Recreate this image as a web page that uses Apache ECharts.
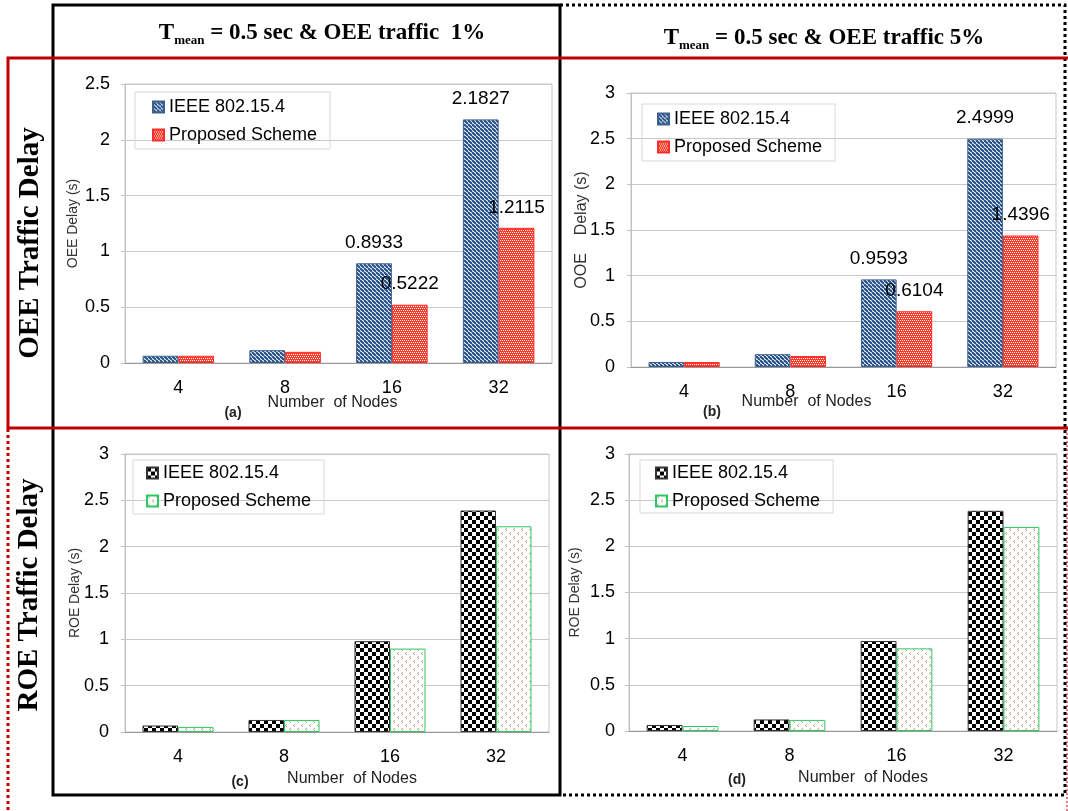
<!DOCTYPE html>
<html>
<head>
<meta charset="utf-8">
<script src="https://cdn.jsdelivr.net/npm/echarts@6/dist/echarts.min.js"></script>
<style>
html, body { margin: 0; padding: 0; background: #fff; }
#chart { width: 1068px; height: 811px; }
</style>
</head>
<body>
<div id="chart"></div>
<script>
// number of nodes on every x axis
const nodes = ['4', '8', '16', '32']
// OEE delay (s), OEE traffic 1% / 5%
const oeeIeee1 = [0.065, 0.115, 0.8933, 2.1827]
const oeeProp1 = [0.065, 0.1, 0.5222, 1.2115]
const oeeIeee5 = [0.055, 0.14, 0.9593, 2.4999]
const oeeProp5 = [0.055, 0.12, 0.6104, 1.4396]
// ROE delay (s), OEE traffic 1% / 5%
const roeIeee1 = [0.07, 0.13, 0.98, 2.39]
const roeProp1 = [0.055, 0.13, 0.9, 2.22]
const roeIeee5 = [0.065, 0.125, 0.975, 2.385]
const roeProp5 = [0.054, 0.12, 0.895, 2.21]
// which categories carry a value label in the OEE panels
const labelled = [false, false, true, true]
const legendNames = ['IEEE 802.15.4', 'Proposed Scheme']

const sans = 'Liberation Sans, Arial, sans-serif'
const serif = 'Liberation Serif, Times New Roman, serif'

function tile(w, h, draw) {
  const c = document.createElement('canvas')
  c.width = w
  c.height = h
  draw(c.getContext('2d'))
  return { image: c, repeat: 'repeat' }
}

// bar fills
const blueStripes = tile(4, 4, ctx => {
  ctx.fillStyle = '#fff'
  ctx.fillRect(0, 0, 4, 4)
  ctx.strokeStyle = '#1f4c86'
  ctx.lineWidth = 2
  const offs = [-4, 0, 4]
  offs.forEach(o => {
    ctx.beginPath()
    ctx.moveTo(o, 0)
    ctx.lineTo(o + 4, 4)
    ctx.stroke()
  })
})
const redDots = tile(4, 4, ctx => {
  ctx.fillStyle = '#ff3a26'
  ctx.fillRect(0, 0, 4, 4)
  ctx.fillStyle = '#fff'
  const px = [[0, 0], [2, 0], [1, 2], [3, 2]]
  px.forEach(p => ctx.fillRect(p[0], p[1], 1, 1))
})
const checker = tile(8, 8, ctx => {
  ctx.fillStyle = '#fff'
  ctx.fillRect(0, 0, 8, 8)
  ctx.fillStyle = '#000'
  ctx.fillRect(0, 0, 4, 4)
  ctx.fillRect(4, 4, 4, 4)
})
const tanMarks = tile(8, 8, ctx => {
  ctx.fillStyle = '#fff'
  ctx.fillRect(0, 0, 8, 8)
  ctx.fillStyle = '#b4a67c'
  const px = [[2, 0], [1, 1], [2, 2], [6, 4], [5, 5], [6, 6]]
  px.forEach(p => ctx.fillRect(p[0], p[1], 1, 1))
})

const panels = [
  {
    key: 'a', grid: { left: 125, top: 84, width: 427, height: 279 }, max: 2.5,
    yName: 'OEE Delay (s)', yNameSize: 14, yNameGap: 45, yLabelMargin: 15,
    xNameGap: 32, xNameShift: -6,
    legend: { left: 135, top: 92, padding: [6, 13, 5, 17] },
    series: [oeeIeee1, oeeProp1], styles: [
      { color: blueStripes, borderColor: '#3d5f8c' },
      { color: redDots, borderColor: '#ff2a2a' }
    ], values: true, tag: '(a)', tagPos: [233, 413]
  },
  {
    key: 'b', grid: { left: 631, top: 93, width: 425, height: 274 }, max: 3,
    yName: 'OOE    Delay (s)', yNameSize: 16, yNameGap: 41, yLabelMargin: 16,
    xNameGap: 27, xNameShift: -37,
    legend: { left: 642, top: 104, padding: [6, 13, 5, 15] },
    series: [oeeIeee5, oeeProp5], styles: [
      { color: blueStripes, borderColor: '#3d5f8c' },
      { color: redDots, borderColor: '#ff2a2a' }
    ], values: true, tag: '(b)', tagPos: [712, 412]
  },
  {
    key: 'c', grid: { left: 125, top: 454, width: 424, height: 278 }, max: 3,
    yName: 'ROE Delay (s)', yNameSize: 14, yNameGap: 43, yLabelMargin: 16,
    xNameGap: 39, xNameShift: 15,
    legend: { left: 133, top: 460, padding: [4, 13, 4, 13] },
    series: [roeIeee1, roeProp1], styles: [
      { color: checker, borderColor: '#333' },
      { color: tanMarks, borderColor: '#2ec862' }
    ], values: false, tag: '(c)', tagPos: [240, 782]
  },
  {
    key: 'd', grid: { left: 629, top: 454, width: 428, height: 277 }, max: 3,
    yName: 'ROE Delay (s)', yNameSize: 14, yNameGap: 47, yLabelMargin: 14,
    xNameGap: 39, xNameShift: 20,
    legend: { left: 640, top: 460, padding: [4, 13, 3, 15] },
    series: [roeIeee5, roeProp5], styles: [
      { color: checker, borderColor: '#333' },
      { color: tanMarks, borderColor: '#2ec862' }
    ], values: false, tag: '(d)', tagPos: [737, 780]
  }
]

const grid = []
const xAxis = []
const yAxis = []
const series = []
const legend = []
const graphic = []

panels.forEach((p, i) => {
  grid.push(Object.assign({
    show: true, borderColor: '#c8c8c8', borderWidth: 1, containLabel: false, outerBoundsMode: 'none'
  }, p.grid))
  const shift = p.xNameShift
  xAxis.push({
    type: 'category', gridIndex: i, data: nodes,
    axisLine: { lineStyle: { color: '#999' } },
    axisTick: { length: 7, lineStyle: { color: '#999' } },
    axisLabel: { fontSize: 18, margin: 16, color: '#000', fontFamily: sans },
    name: 'Number  of Nodes', nameLocation: 'middle', nameGap: p.xNameGap, nameMoveOverlap: false,
    nameTextStyle: {
      fontSize: 16, color: '#222', fontFamily: sans,
      padding: shift < 0 ? [0, -2 * shift, 0, 0] : [0, 0, 0, 2 * shift]
    }
  })
  yAxis.push({
    type: 'value', gridIndex: i, min: 0, max: p.max, interval: 0.5,
    axisLine: { show: true, lineStyle: { color: '#c0c0c0' } },
    axisTick: { show: true, length: 4, lineStyle: { color: '#c0c0c0' } },
    splitLine: { lineStyle: { color: '#c8c8c8' } },
    axisLabel: { fontSize: 18, margin: p.yLabelMargin, color: '#000', fontFamily: sans },
    name: p.yName, nameLocation: 'middle', nameGap: p.yNameGap, nameMoveOverlap: false,
    nameTextStyle: { fontSize: p.yNameSize, color: '#333', fontFamily: sans }
  })
  p.series.forEach((vals, s) => {
    series.push({
      type: 'bar', name: p.key + ':' + legendNames[s], xAxisIndex: i, yAxisIndex: i,
      barGap: '0%', barCategoryGap: '33%',
      itemStyle: Object.assign({ borderWidth: 1 }, p.styles[s]),
      label: {
        show: false, position: 'top', distance: 11, fontSize: 19, color: '#000', fontFamily: sans
      },
      data: vals.map((v, k) => ({ value: v, label: { show: p.values && labelled[k] } })),
      silent: true
    })
  })
  legend.push(Object.assign({
    orient: 'vertical', icon: 'rect', itemWidth: 11, itemHeight: 11, itemGap: 10,
    borderColor: '#d9d9d9', borderWidth: 1, selectedMode: false,
    textStyle: { fontSize: 18, color: '#000', fontFamily: sans },
    data: legendNames.map(n => p.key + ':' + n),
    formatter: n => n.slice(2)
  }, p.legend))
  graphic.push({
    type: 'text', x: p.tagPos[0], y: p.tagPos[1],
    style: { text: p.tag, fontSize: 14, fontWeight: 'bold', fontFamily: sans, fill: '#222', align: 'center', verticalAlign: 'middle' }
  })
})

// header texts
const rich = {
  t: { fontSize: 23, fontWeight: 'bold', fontFamily: serif, lineHeight: 28, fill: '#000' },
  s: { fontSize: 13, fontWeight: 'bold', fontFamily: serif, lineHeight: 14, verticalAlign: 'bottom', fill: '#000' }
}
graphic.push(
  { type: 'text', x: 322, y: 33, style: { text: '{t|T}{s|mean}{t| = 0.5 sec & OEE traffic  1%}', rich, align: 'center', verticalAlign: 'middle' } },
  { type: 'text', x: 824, y: 38, style: { text: '{t|T}{s|mean}{t| = 0.5 sec & OEE traffic 5%}', rich, align: 'center', verticalAlign: 'middle' } },
  {
    type: 'text', x: 31, y: 243, rotation: Math.PI / 2,
    style: { text: 'OEE Traffic Delay', fontSize: 29, fontWeight: 'bold', fontFamily: serif, fill: '#000', align: 'center', verticalAlign: 'middle' }
  },
  {
    type: 'text', x: 30, y: 595, rotation: Math.PI / 2,
    style: { text: 'ROE Traffic Delay', fontSize: 29, fontWeight: 'bold', fontFamily: serif, fill: '#000', align: 'center', verticalAlign: 'middle' }
  },
  // frames
  { type: 'rect', shape: { x: 53, y: 5, width: 507, height: 790 }, style: { fill: 'none', stroke: '#000', lineWidth: 3 }, z: 10 },
  { type: 'polyline', shape: { points: [[560, 5], [1065, 5], [1065, 795], [560, 795]] }, style: { fill: 'none', stroke: '#000', lineWidth: 3, lineDash: [3, 3] }, z: 10 },
  { type: 'rect', shape: { x: 8, y: 58, width: 1075, height: 370 }, style: { fill: 'none', stroke: '#c00000', lineWidth: 3 }, z: 11 },
  { type: 'line', shape: { x1: 8, y1: 429, x2: 8, y2: 811 }, style: { stroke: '#c00000', lineWidth: 3, lineDash: [3, 3] }, z: 11 },
  { type: 'line', shape: { x1: 1067, y1: 429, x2: 1067, y2: 811 }, style: { stroke: '#c00000', lineWidth: 1, lineDash: [2, 2] }, z: 11 }
)

const myChart = echarts.init(document.getElementById('chart'), null, { renderer: 'canvas' })
myChart.setOption({
  animation: false,
  grid, xAxis, yAxis, series, legend, graphic
})
</script>
</body>
</html>
